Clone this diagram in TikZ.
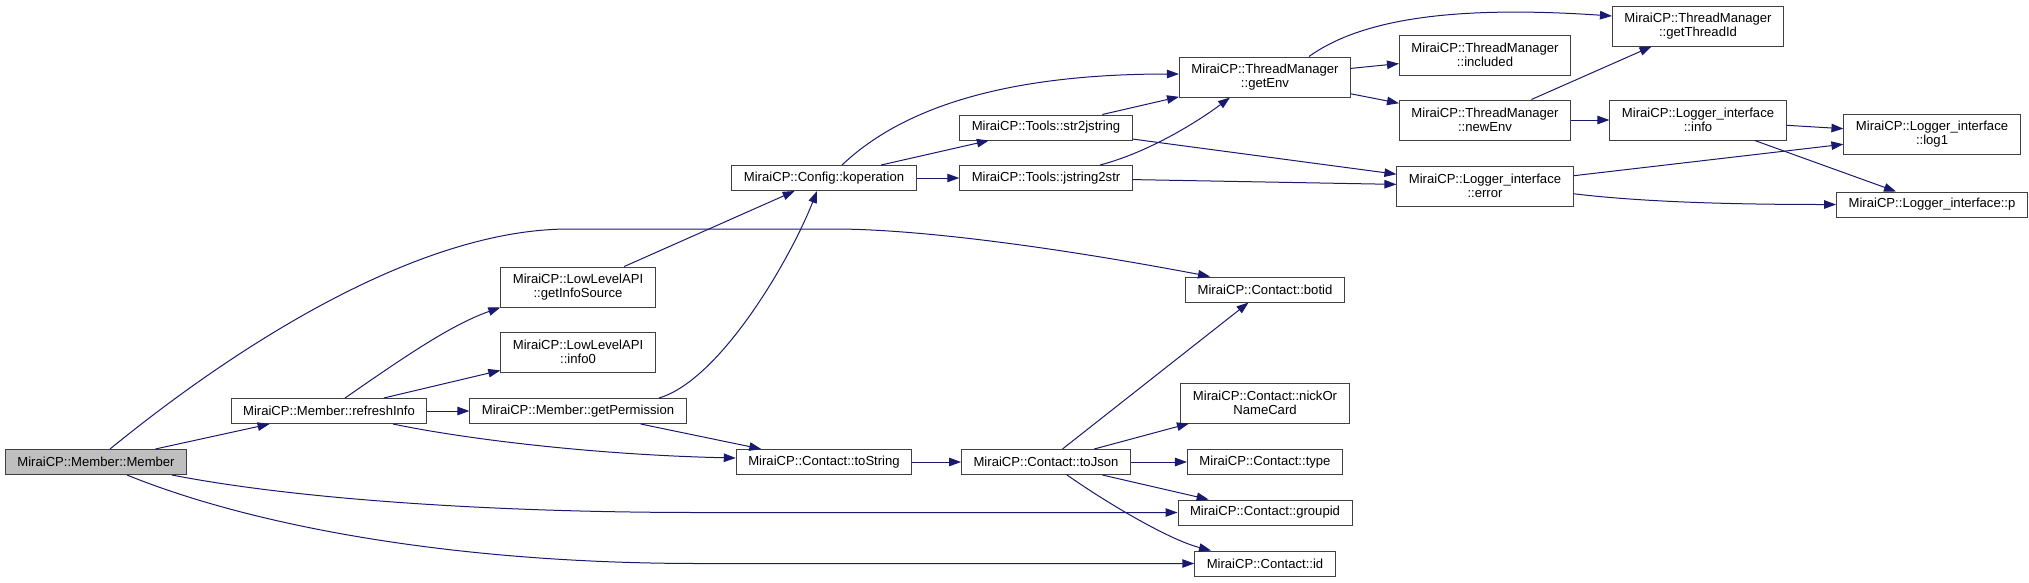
\documentclass[tikz,border=0pt]{standalone}
\usepackage{fontspec}
\setmainfont{Liberation Sans}
\usetikzlibrary{arrows.meta}
\definecolor{edgeblue}{HTML}{191970}
\definecolor{rootgray}{HTML}{BFBFBF}
\definecolor{boxline}{HTML}{404040}
\tikzset{
  fn/.style={draw=boxline, line width=1pt, fill=white, inner xsep=12pt, inner ysep=0pt,
    minimum height=25pt, align=center, font=\fontsize{13.1}{14.5}\selectfont},
  fntwo/.style={fn, minimum height=40pt},
  call/.style={draw=edgeblue, line width=1pt, -{Triangle[length=12pt,width=8.5pt]}},
}
\begin{document}
\begin{tikzpicture}[x=1pt, y=-1pt]
  \useasboundingbox (0,0) rectangle (2029,582);
  % Nodes:
  \node[fn, fill=rootgray] (member) at (96,462) {MiraiCP::Member::Member};
  \node[fn] (refresh) at (329,411) {MiraiCP::Member::refreshInfo};
  \node[fn] (perm) at (578,411) {MiraiCP::Member::getPermission};
  \node[fntwo] (infosrc) at (578,287) {MiraiCP::LowLevelAPI\\::getInfoSource};
  \node[fntwo] (infozero) at (578,352) {MiraiCP::LowLevelAPI\\::info0};
  \node[fn] (koper) at (824,178) {MiraiCP::Config::koperation};
  \node[fn] (tostr) at (824,462) {MiraiCP::Contact::toString};
  \node[fn] (strj) at (1046,127.5) {MiraiCP::Tools::str2jstring};
  \node[fn] (jstrs) at (1046,178) {MiraiCP::Tools::jstring2str};
  \node[fn] (tojson) at (1046,462) {MiraiCP::Contact::toJson};
  \node[fntwo] (getenv) at (1265,77) {MiraiCP::ThreadManager\\::getEnv};
  \node[fn] (botid) at (1265,289.5) {MiraiCP::Contact::botid};
  \node[fntwo] (nick) at (1265,403) {MiraiCP::Contact::nickOr\\NameCard};
  \node[fn] (ctype) at (1265,462) {MiraiCP::Contact::type};
  \node[fn] (groupid) at (1265,512.5) {MiraiCP::Contact::groupid};
  \node[fn] (cid) at (1265,563.5) {MiraiCP::Contact::id};
  \node[fntwo] (included) at (1485,55) {MiraiCP::ThreadManager\\::included};
  \node[fntwo] (newenv) at (1485,120) {MiraiCP::ThreadManager\\::newEnv};
  \node[fntwo] (logerr) at (1485,186) {MiraiCP::Logger\_interface\\::error};
  \node[fntwo] (tid) at (1698,26) {MiraiCP::ThreadManager\\::getThreadId};
  \node[fntwo] (loginfo) at (1698,120) {MiraiCP::Logger\_interface\\::info};
  \node[fntwo] (logone) at (1932,134) {MiraiCP::Logger\_interface\\::log1};
  \node[fn] (logp) at (1932,204.5) {MiraiCP::Logger\_interface::p};
  % Calls:
  \draw[call] (member) -- (refresh);
  \draw[call] ([xshift=14pt]member.north) .. controls (240,343) and (420,229) .. (569,229)
    -- (834,229) .. controls (920,229) and (1060,248) .. ([xshift=-55pt]botid.north);
  \draw[call] ([xshift=76pt]member.south) .. controls (300,500) and (500,512.5) .. (700,512.5) -- (groupid.west);
  \draw[call] ([xshift=31pt]member.south) .. controls (250,525) and (450,563.5) .. (700,563.5) -- (cid.west);
  \draw[call] ([xshift=16pt]refresh.north) .. controls (400,360) and (450,325) .. (infosrc.south west);
  \draw[call] (refresh) -- (infozero);
  \draw[call] (refresh) -- (perm);
  \draw[call] ([xshift=64pt]refresh.south) .. controls (470,440) and (600,455) .. ([yshift=4pt]tostr.west);
  \draw[call] ([xshift=81pt]perm.north) .. controls (720,380) and (790,260) .. ([xshift=-7pt]koper.south);
  \draw[call] (perm) -- (tostr);
  \draw[call] (infosrc) -- (koper);
  \draw[call] ([xshift=18pt]koper.north) .. controls (900,110) and (1000,74) .. ([yshift=3pt]getenv.west);
  \draw[call] (koper) -- (strj);
  \draw[call] (koper) -- (jstrs);
  \draw[call] (strj) -- (getenv);
  \draw[call] (strj) -- (logerr);
  \draw[call] ([xshift=54pt]jstrs.north) .. controls (1150,152) and (1200,120) .. ([xshift=-35pt]getenv.south);
  \draw[call] (jstrs) -- (logerr);
  \draw[call] ([xshift=44pt]getenv.north) .. controls (1360,20) and (1450,5) .. ([yshift=10pt]tid.west);
  \draw[call] (getenv) -- (included);
  \draw[call] (getenv) -- (newenv);
  \draw[call] (newenv) -- (tid);
  \draw[call] (newenv) -- (loginfo);
  \draw[call] (loginfo) -- (logone);
  \draw[call] (loginfo) -- (logp);
  \draw[call] (logerr) -- (logone);
  \draw[call] (logerr.-5) .. controls (1650,203) and (1750,204.5) .. (logp.west);
  \draw[call] (tostr) -- (tojson);
  \draw[call] (tojson) -- (botid);
  \draw[call] (tojson) -- (nick);
  \draw[call] (tojson) -- (ctype);
  \draw[call] (tojson) -- (groupid);
  \draw[call] ([xshift=21pt]tojson.south) .. controls (1110,505) and (1170,540) .. ([xshift=-54pt]cid.north);
\end{tikzpicture}
\end{document}
